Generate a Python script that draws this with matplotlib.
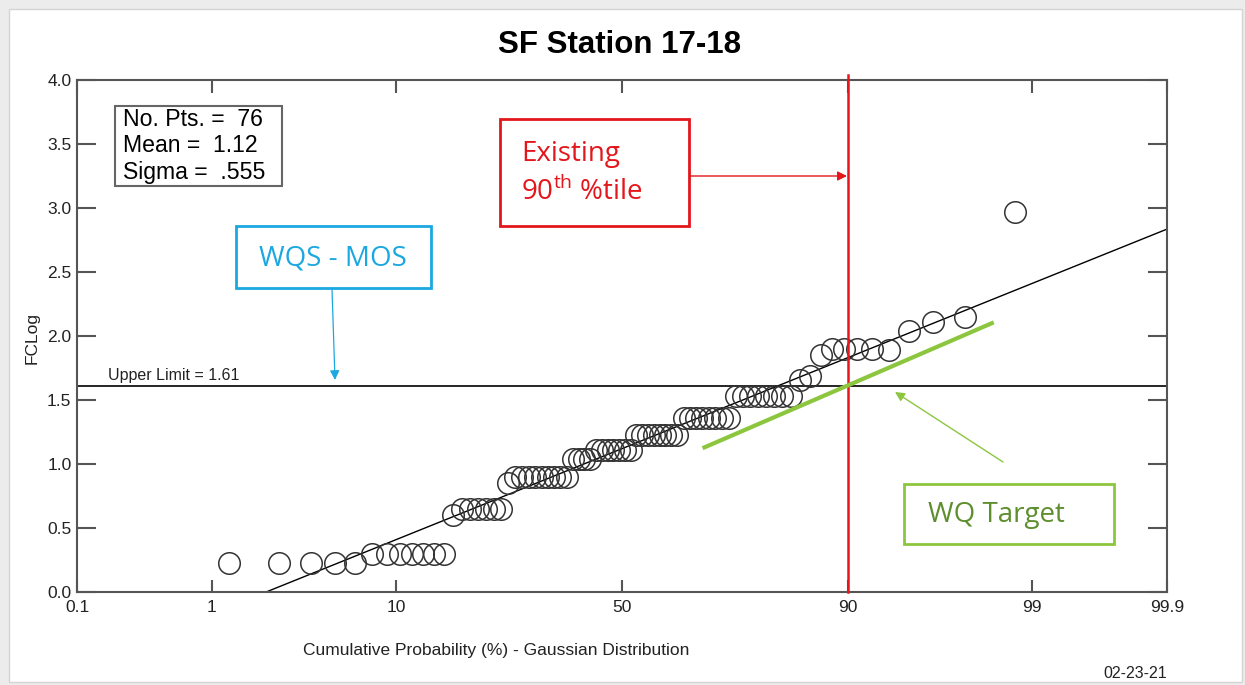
import matplotlib
matplotlib.use('Agg')
import matplotlib.pyplot as plt
import numpy as np
from statistics import NormalDist
from matplotlib.patches import Rectangle

plt.rcParams['font.family'] = ['Liberation Sans', 'DejaVu Sans']
plt.rcParams['mathtext.fontset'] = 'custom'
plt.rcParams['mathtext.rm'] = 'Open Sans'

# sorted FCLog values (76 pts)
fclog = [0.23, 0.23, 0.23, 0.23, 0.23,
         0.30, 0.30, 0.30, 0.30, 0.30, 0.30, 0.30,
         0.60,
         0.65, 0.65, 0.65, 0.65, 0.65, 0.65,
         0.85,
         0.90, 0.90, 0.90, 0.90, 0.90, 0.90, 0.90, 0.90, 0.90,
         1.04, 1.04, 1.04, 1.04,
         1.11, 1.11, 1.11, 1.11, 1.11, 1.11, 1.11,
         1.23, 1.23, 1.23, 1.23, 1.23, 1.23, 1.23, 1.23,
         1.36, 1.36, 1.36, 1.36, 1.36, 1.36, 1.36, 1.36,
         1.53, 1.53, 1.53, 1.53, 1.53, 1.53, 1.53, 1.53,
         1.66, 1.69, 1.85,
         1.90, 1.90, 1.90, 1.90, 1.89,
         2.04, 2.11, 2.15, 2.97]

n_pts = 76
mean = 1.12
sigma = 0.555
upper_limit = 1.61
target_pct = 90

prob_ticks = [0.1, 1, 10, 50, 90, 99, 99.9]
prob_labels = ['0.1', '1', '10', '50', '90', '99', '99.9']
y_ticks = [0.0, 0.5, 1.0, 1.5, 2.0, 2.5, 3.0, 3.5, 4.0]

# green "WQ target" line end points (pct, FCLog)
target_line_pct = [68.0, 98.2]
target_line_y = [1.13, 2.10]

nd = NormalDist()
_ppf = np.vectorize(nd.inv_cdf, otypes=[float])
_cdf = np.vectorize(nd.cdf, otypes=[float])


def fwd(p):
    p = np.clip(np.asarray(p, dtype=float) / 100.0, 1e-7, 1 - 1e-7)
    return _ppf(p)


def inv(z):
    return _cdf(np.asarray(z, dtype=float)) * 100.0


W, H = 1245, 685


def fx(x):
    return x / W


def fy(y):
    return 1 - y / H


fig = plt.figure(figsize=(W / 100, H / 100), dpi=100)
fig.patch.set_facecolor('#ececec')
fig.patches.append(Rectangle((fx(9), fy(682)), fx(1242) - fx(9), fy(9) - fy(682),
                             transform=fig.transFigure, facecolor='white',
                             edgecolor='#d4d4d4', lw=1, zorder=-5))

ax = fig.add_axes([fx(77), fy(592), fx(1167) - fx(77), fy(80) - fy(592)])
ax.set_xscale('function', functions=(fwd, inv))
ax.set_xlim(0.1, 99.9)
ax.set_ylim(0, 4.0)

rank = np.arange(1, n_pts + 1)
pct = 100.0 * rank / (n_pts + 1)
ax.plot(pct, fclog, 'o', ms=15.5, mfc='none', mec='#333333', mew=1.1, zorder=3)

# fitted gaussian line
line_pct = np.array([0.1, 99.9])
ax.plot(line_pct, mean + sigma * fwd(line_pct), color='black', lw=1.0, zorder=2)

ax.axhline(upper_limit, color='black', lw=1.2, zorder=2)
ax.text(fx(108 - 77) / (fx(1167) - fx(77)), upper_limit + 0.02, 'Upper Limit = %.2f' % upper_limit,
        transform=ax.get_yaxis_transform(), fontsize=11.5, color='#222222', va='bottom')

ax.plot([target_pct, target_pct], [0, 4.04], color='#e8161b', lw=1.8, clip_on=False, zorder=4)
ax.plot(target_line_pct, target_line_y, color='#8cc63e', lw=3, zorder=4)

ax.set_xticks(prob_ticks, prob_labels)
ax.set_yticks(y_ticks, ['%.1f' % v for v in y_ticks])
ax.minorticks_off()
ax.tick_params(axis='both', direction='in', colors='#555555', labelcolor='#222222',
               labelsize=12.5, width=1.5)
ax.tick_params(axis='x', top=True, length=9, pad=6)
ax.tick_params(axis='y', right=True, length=13.5, pad=4)
for s in ax.spines.values():
    s.set_color('#555555')
    s.set_linewidth(1.5)

# texts
fig.text(fx(620), fy(45), 'SF Station 17-18', ha='center', va='center',
         fontsize=22.5, fontweight='bold', color='black')
fig.text(fx(496), fy(651), 'Cumulative Probability (%) - Gaussian Distribution',
         ha='center', va='center', fontsize=12.5, color='#222222')
fig.text(fx(32), fy(338), 'FCLog', rotation=90, ha='center', va='center',
         fontsize=12.5, color='#222222')
fig.text(fx(1135), fy(673), '02-23-21', ha='center', va='center',
         fontsize=11.5, color='#222222')

# stats box
fig.patches.append(Rectangle((fx(115), fy(186)), fx(282) - fx(115), fy(106) - fy(186),
                             transform=fig.transFigure, facecolor='white',
                             edgecolor='#666666', lw=1.5, zorder=5))
stats = ['No. Pts. =  %d' % n_pts, 'Mean =  %.2f' % mean, 'Sigma =  .555']
for i, s in enumerate(stats):
    fig.text(fx(123), fy(120 + 26 * i), s, ha='left', va='center', fontsize=16.6,
             color='black', zorder=6)

# annotation boxes
cyan = '#1ba8e0'
red = '#e3161c'
green = '#8cc63e'

fig.patches.append(Rectangle((fx(236), fy(288)), fx(431) - fx(236), fy(226) - fy(288),
                             transform=fig.transFigure, facecolor='white',
                             edgecolor=cyan, lw=2, zorder=5))
fig.text(fx(333), fy(258), 'WQS - MOS', ha='center', va='center', fontsize=20,
         family='Open Sans', color=cyan, zorder=6)
fig.add_artist(plt.Annotation('', xy=(fx(335), fy(380)), xytext=(fx(332), fy(289)),
                              xycoords='figure fraction', textcoords='figure fraction',
                              arrowprops=dict(arrowstyle='-|>', color=cyan, lw=0.9,
                                              mutation_scale=14, shrinkA=0, shrinkB=0)))

fig.patches.append(Rectangle((fx(500), fy(226)), fx(689) - fx(500), fy(119) - fy(226),
                             transform=fig.transFigure, facecolor='white',
                             edgecolor=red, lw=2, zorder=5))
fig.text(fx(521), fy(161), 'Existing', ha='left', va='baseline', fontsize=20,
         family='Open Sans', color=red, zorder=6)
fig.text(fx(521), fy(200), '90$^{\\mathrm{th}}$ %tile', ha='left', va='baseline', fontsize=20,
         family='Open Sans', color=red, zorder=6)
fig.add_artist(plt.Annotation('', xy=(fx(847), fy(176)), xytext=(fx(689), fy(176)),
                              xycoords='figure fraction', textcoords='figure fraction',
                              arrowprops=dict(arrowstyle='-|>', color=red, lw=1,
                                              mutation_scale=14, shrinkA=0, shrinkB=0)))

fig.patches.append(Rectangle((fx(904), fy(544)), fx(1114) - fx(904), fy(484) - fy(544),
                             transform=fig.transFigure, facecolor='white',
                             edgecolor=green, lw=2, zorder=5))
fig.text(fx(996), fy(515), 'WQ Target', ha='center', va='center', fontsize=20,
         family='Open Sans', color='#5e8e2e', zorder=6)
fig.add_artist(plt.Annotation('', xy=(fx(895), fy(392)), xytext=(fx(1003), fy(462)),
                              xycoords='figure fraction', textcoords='figure fraction',
                              arrowprops=dict(arrowstyle='-|>', color=green, lw=1,
                                              mutation_scale=14, shrinkA=0, shrinkB=0)))

fig.savefig('out.png', dpi=100, facecolor=fig.get_facecolor())
